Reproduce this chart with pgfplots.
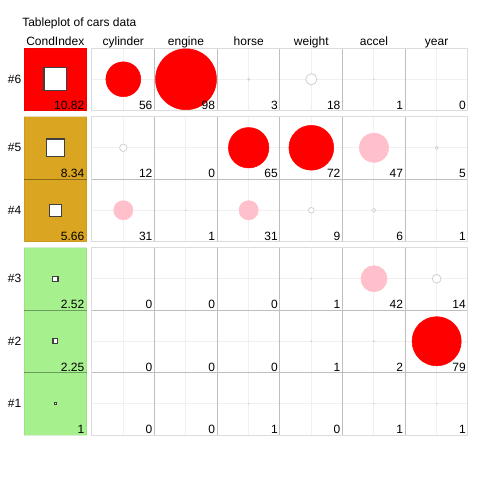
\documentclass[border=0pt]{standalone}
\usepackage{pgfplots}
\pgfplotsset{compat=1.18}
\usepackage{pgfplotstable}
\usepackage{fontspec}
\setmainfont{Liberation Sans}
\definecolor{cired}{HTML}{FF0000}
\definecolor{cigold}{HTML}{DAA520}
\definecolor{cigreen}{HTML}{A6F08E}
\definecolor{cpink}{HTML}{FFC0CB}
\definecolor{faintc}{HTML}{F0F0F0}
\definecolor{cellc}{HTML}{BEBEBE}
\definecolor{panelc}{HTML}{DCDCDC}
\definecolor{whitec}{HTML}{D0D0D0}

% col: 1=cylinder ... 6=year ; row: 6 (#6) ... 1 (#1)
\pgfplotstableread{
col row value
1 6 56
2 6 98
3 6 3
4 6 18
5 6 1
6 6 0
1 5 12
2 5 0
3 5 65
4 5 72
5 5 47
6 5 5
1 4 31
2 4 1
3 4 31
4 4 9
5 4 6
6 4 1
1 3 0
2 3 0
3 3 0
4 3 1
5 3 42
6 3 14
1 2 0
2 2 0
3 2 0
4 2 1
5 2 2
6 2 79
1 1 0
2 1 0
3 1 1
4 1 0
5 1 1
6 1 1
}\cells

\pgfplotstableread{
row value
6 10.82
5 8.34
4 5.66
3 2.52
2 2.25
1 1
}\cond

\begin{document}
\begin{tikzpicture}[font=\fontsize{9}{10.8}\selectfont]
\begin{axis}[
  scale only axis, width=360pt, height=360pt,
  xmin=0, xmax=480, ymin=0, ymax=480, y dir=reverse,
  hide axis, clip=false,
]
% CondIndex backgrounds
\addplot[fill=cired, draw=cired!80!black, draw opacity=0.3] coordinates {(24,48) (86.67,48) (86.67,110.5) (24,110.5)} -- cycle;
\addplot[fill=cigold, draw=cigold!80!black, draw opacity=0.3] coordinates {(24,116.5) (86.67,116.5) (86.67,241.5) (24,241.5)} -- cycle;
\addplot[fill=cigreen, draw=cigreen!80!black, draw opacity=0.3] coordinates {(24,247.5) (86.67,247.5) (86.67,435) (24,435)} -- cycle;
\pgfplotsinvokeforeach{179,310,372.5}{
  \draw[black, opacity=0.35, line width=0.75pt] (24,#1) -- (86.67,#1);
}
% faint centre lines
\pgfplotsinvokeforeach{123.33,186,248.67,311.33,374,436.67}{
  \draw[faintc, line width=0.75pt] (#1,48) -- (#1,110.5);
  \draw[faintc, line width=0.75pt] (#1,116.5) -- (#1,241.5);
  \draw[faintc, line width=0.75pt] (#1,247.5) -- (#1,435);
}
\pgfplotsinvokeforeach{79.25,147.75,210.25,278.75,341.25,403.75}{
  \draw[faintc, line width=0.75pt] (92,#1) -- (468,#1);
}
% cell borders
\pgfplotsinvokeforeach{154.67,217.33,280,342.67,405.33}{
  \draw[cellc, line width=0.75pt] (#1,48) -- (#1,110.5);
  \draw[cellc, line width=0.75pt] (#1,116.5) -- (#1,241.5);
  \draw[cellc, line width=0.75pt] (#1,247.5) -- (#1,435);
}
\pgfplotsinvokeforeach{179,310,372.5}{
  \draw[cellc, line width=0.75pt] (92,#1) -- (468,#1);
}
% panel outlines
\draw[panelc, line width=0.75pt] (92,48) rectangle (468,110.5);
\draw[panelc, line width=0.75pt] (92,116.5) rectangle (468,241.5);
\draw[panelc, line width=0.75pt] (92,247.5) rectangle (468,435);

% circles
\addplot[scatter, only marks, mark=*, color=cired,
  mark options={draw=cired, fill=cired},
  scatter/use mapped color={draw=cired, fill=cired},
  restrict expr to domain={\thisrow{value}}{50:1000},
  visualization depends on={0.2333*\thisrow{value} \as \msize},
  scatter/@pre marker code/.append style={/tikz/mark size=\msize}]
  table[x expr={92+62.667*(\thisrow{col}-0.5)},
        y expr={403.75-62.5*(\thisrow{row}-1)-6*(\thisrow{row}>=4)-6*(\thisrow{row}>=6)}] {\cells};
\addplot[scatter, only marks, mark=*, color=cpink,
  mark options={draw=cpink, fill=cpink},
  scatter/use mapped color={draw=cpink, fill=cpink},
  restrict expr to domain={\thisrow{value}}{20:49.9},
  visualization depends on={0.2333*\thisrow{value} \as \msize},
  scatter/@pre marker code/.append style={/tikz/mark size=\msize}]
  table[x expr={92+62.667*(\thisrow{col}-0.5)},
        y expr={403.75-62.5*(\thisrow{row}-1)-6*(\thisrow{row}>=4)-6*(\thisrow{row}>=6)}] {\cells};
\addplot[scatter, only marks, mark=*, line width=0.6pt, color=whitec,
  mark options={draw=whitec, fill=white},
  scatter/use mapped color={draw=whitec, fill=white},
  restrict expr to domain={\thisrow{value}}{0.5:19.9},
  visualization depends on={0.2333*\thisrow{value} \as \msize},
  scatter/@pre marker code/.append style={/tikz/mark size=\msize}]
  table[x expr={92+62.667*(\thisrow{col}-0.5)},
        y expr={403.75-62.5*(\thisrow{row}-1)-6*(\thisrow{row}>=4)-6*(\thisrow{row}>=6)}] {\cells};

% CondIndex squares
\addplot[scatter, only marks, mark=square*, line width=0.8pt, color=black!75,
  mark options={draw=black!75, fill=white},
  scatter/use mapped color={draw=black!75, fill=white},
  visualization depends on={0.7875*\thisrow{value} \as \msize},
  scatter/@pre marker code/.append style={/tikz/mark size=\msize}]
  table[x expr={55.33},
        y expr={403.75-62.5*(\thisrow{row}-1)-6*(\thisrow{row}>=4)-6*(\thisrow{row}>=6)}] {\cond};

% value labels
\addplot[only marks, mark=none, nodes near coords, point meta=explicit symbolic,
  every node near coord/.append style={anchor=base east, inner sep=0pt, text=black}]
  table[x expr={92+62.667*\thisrow{col}-2},
        y expr={433.5-62.5*(\thisrow{row}-1)-6*(\thisrow{row}>=4)-6*(\thisrow{row}>=6)},
        meta=value] {\cells};
\addplot[only marks, mark=none, nodes near coords, point meta=explicit symbolic,
  every node near coord/.append style={anchor=base east, inner sep=0pt, text=black}]
  table[x expr={84.5},
        y expr={433.5-62.5*(\thisrow{row}-1)-6*(\thisrow{row}>=4)-6*(\thisrow{row}>=6)},
        meta=value] {\cond};

% row labels
\node[anchor=east, inner sep=0pt] at (21.5,79.25) {\#6};
\node[anchor=east, inner sep=0pt] at (21.5,147.75) {\#5};
\node[anchor=east, inner sep=0pt] at (21.5,210.25) {\#4};
\node[anchor=east, inner sep=0pt] at (21.5,278.75) {\#3};
\node[anchor=east, inner sep=0pt] at (21.5,341.25) {\#2};
\node[anchor=east, inner sep=0pt] at (21.5,403.75) {\#1};
% column headers
\node[anchor=base, inner sep=0pt] at (55.33,45) {CondIndex};
\node[anchor=base, inner sep=0pt] at (123.33,45) {cylinder};
\node[anchor=base, inner sep=0pt] at (186,45) {engine};
\node[anchor=base, inner sep=0pt] at (248.67,45) {horse};
\node[anchor=base, inner sep=0pt] at (311.33,45) {weight};
\node[anchor=base, inner sep=0pt] at (374,45) {accel};
\node[anchor=base, inner sep=0pt] at (436.67,45) {year};
% title
\node[anchor=base west, inner sep=0pt] at (22,26) {Tableplot of cars data};
\end{axis}
\pgfresetboundingbox
\path[use as bounding box] (current axis.south west) rectangle (current axis.north east);
\end{tikzpicture}
\end{document}
